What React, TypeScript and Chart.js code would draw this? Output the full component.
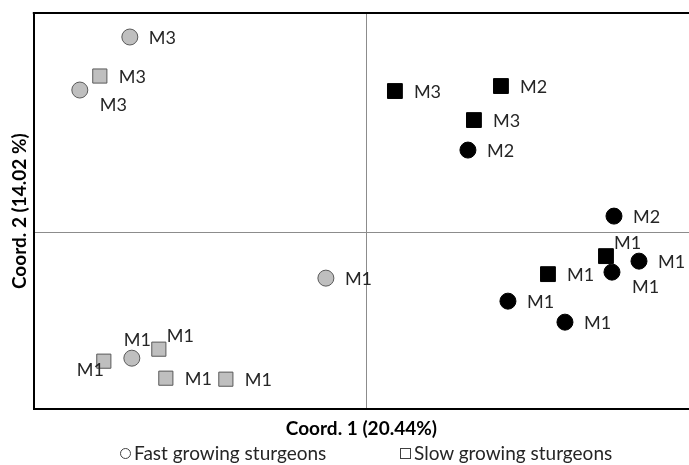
import { useEffect, useRef } from "react";
import { Chart, registerables } from "chart.js";
Chart.register(...registerables);

// Fast growing sturgeons, grey circles
const fastGreyX = [-2.37, -2.87, -0.41, -2.35];
const fastGreyY = [1.95, 1.42, -0.46, -1.26];
const fastGreyLabels = ["M3", "M3", "M1", "M1"];
const fastGreyPlace = ["r", "br", "r", "al"];

// Fast growing sturgeons, black circles
const fastBlackX = [1.01, 2.47, 2.72, 2.45, 1.41, 1.98];
const fastBlackY = [0.82, 0.16, -0.29, -0.4, -0.69, -0.9];
const fastBlackLabels = ["M2", "M2", "M1", "M1", "M1", "M1"];
const fastBlackPlace = ["r", "r", "r", "br", "r", "r"];

// Slow growing sturgeons, grey squares
const slowGreyX = [-2.67, -2.63, -2.08, -2.01, -1.41];
const slowGreyY = [1.56, -1.29, -1.17, -1.46, -1.47];
const slowGreyLabels = ["M3", "M1", "M1", "M1", "M1"];
const slowGreyPlace = ["r", "bl", "ar", "r", "r"];

// Slow growing sturgeons, black squares
const slowBlackX = [0.28, 1.34, 1.07, 2.39, 1.81];
const slowBlackY = [1.41, 1.46, 1.12, -0.24, -0.42];
const slowBlackLabels = ["M3", "M2", "M3", "M1", "M1"];
const slowBlackPlace = ["r", "r", "r", "ar", "r"];

const xRange = [-3.33, 3.22];
const yRange = [-1.77, 2.19];
const xTitle = "Coord. 1 (20.44%)";
const yTitle = "Coord. 2 (14.02 %)";
const legendLabels = ["Fast growing sturgeons", "Slow growing sturgeons"];

const FONT = "Lato, 'Noto Sans', sans-serif";

const toPts = (xs: number[], ys: number[]) => xs.map((x, i) => ({ x, y: ys[i] }));

const placeOffsets: Record<string, [number, number]> = {
  r: [19, 1],
  br: [20, 15],
  al: [-8, -18],
  ar: [8, -13],
  bl: [-27, 9],
};

const labelPlugin = {
  id: "pointLabels",
  afterDatasetsDraw(chart: any) {
    const ctx = chart.ctx;
    ctx.save();
    ctx.font = `18px ${FONT}`;
    ctx.fillStyle = "#262626";
    ctx.textBaseline = "middle";
    ctx.textAlign = "left";
    chart.data.datasets.forEach((ds: any, di: number) => {
      const meta = chart.getDatasetMeta(di);
      meta.data.forEach((el: any, i: number) => {
        const [dx, dy] = placeOffsets[ds.place[i]] || placeOffsets.r;
        ctx.fillText(ds.labels[i], el.x + dx, el.y + dy);
      });
    });
    ctx.restore();
  },
  afterDraw(chart: any) {
    const { ctx, chartArea } = chart;
    ctx.save();
    ctx.strokeStyle = "#000";
    ctx.lineWidth = 2;
    ctx.beginPath();
    ctx.moveTo(chartArea.left - 1, chartArea.top);
    ctx.lineTo(chartArea.right, chartArea.top);
    ctx.stroke();
    ctx.restore();
  },
};

export default function App() {
  const ref = useRef<HTMLCanvasElement | null>(null);
  useEffect(() => {
    if (!ref.current) return;
    const grey = "#BFBFBF";
    const greyBorder = "#595959";
    const chart = new Chart(ref.current, {
      type: "scatter",
      data: {
        datasets: [
          {
            data: toPts(fastGreyX, fastGreyY),
            labels: fastGreyLabels,
            place: fastGreyPlace,
            pointStyle: "circle",
            pointRadius: 8,
            backgroundColor: grey,
            borderColor: greyBorder,
            borderWidth: 1,
          } as any,
          {
            data: toPts(fastBlackX, fastBlackY),
            labels: fastBlackLabels,
            place: fastBlackPlace,
            pointStyle: "circle",
            pointRadius: 8,
            backgroundColor: "#000",
            borderColor: "#000",
            borderWidth: 1,
          } as any,
          {
            data: toPts(slowGreyX, slowGreyY),
            labels: slowGreyLabels,
            place: slowGreyPlace,
            pointStyle: "rect",
            pointRadius: 10,
            backgroundColor: grey,
            borderColor: greyBorder,
            borderWidth: 1,
          } as any,
          {
            data: toPts(slowBlackX, slowBlackY),
            labels: slowBlackLabels,
            place: slowBlackPlace,
            pointStyle: "rect",
            pointRadius: 10.5,
            backgroundColor: "#000",
            borderColor: "#000",
            borderWidth: 1,
          } as any,
        ],
      },
      options: {
        animation: false,
        responsive: false,
        devicePixelRatio: 1,
        layout: { autoPadding: false, padding: { left: 3, top: 13, right: 0, bottom: 25 } },
        plugins: { legend: { display: false }, tooltip: { enabled: false } },
        scales: {
          x: {
            type: "linear",
            min: xRange[0],
            max: xRange[1],
            afterBuildTicks: (axis: any) => {
              axis.ticks = [{ value: 0 }];
            },
            ticks: { display: false },
            grid: { color: "#8C8C8C", lineWidth: 1, drawTicks: false },
            border: { display: true, color: "#000", width: 2 },
            title: {
              display: true,
              text: xTitle,
              color: "#000",
              font: { family: FONT, size: 19, weight: "bold" },
              padding: { top: 8, bottom: 0 },
            },
          },
          y: {
            type: "linear",
            min: yRange[0],
            max: yRange[1],
            afterBuildTicks: (axis: any) => {
              axis.ticks = [{ value: 0 }];
            },
            ticks: { display: false },
            grid: { color: "#8C8C8C", lineWidth: 1, drawTicks: false },
            border: { display: true, color: "#000", width: 2 },
            title: {
              display: true,
              text: yTitle,
              color: "#000",
              font: { family: FONT, size: 19, weight: "bold" },
              padding: { top: 5, bottom: 3 },
            },
          },
        },
      } as any,
      plugins: [labelPlugin],
    });
    return () => chart.destroy();
  }, []);

  const sym = (shape: "circle" | "square") => (
    <span
      style={{
        display: "inline-block",
        width: 11,
        height: 11,
        border: "1px solid #404040",
        borderRadius: shape === "circle" ? "50%" : 0,
        background: "#fff",
        marginRight: 3,
        boxSizing: "border-box",
      }}
    />
  );

  const legendStyle: any = {
    position: "absolute",
    top: 442,
    fontFamily: FONT,
    fontSize: 19,
    lineHeight: "22px",
    color: "#262626",
    display: "flex",
    alignItems: "center",
    whiteSpace: "nowrap",
  };

  return (
    <div style={{ position: "fixed", left: 0, top: 0, width: 689, height: 465, background: "#fff" }}>
      <canvas ref={ref} width={689} height={465} style={{ display: "block" }} />
      <div style={{ ...legendStyle, left: 120 }}>
        {sym("circle")}
        {legendLabels[0]}
      </div>
      <div style={{ ...legendStyle, left: 400 }}>
        {sym("square")}
        {legendLabels[1]}
      </div>
    </div>
  );
}
